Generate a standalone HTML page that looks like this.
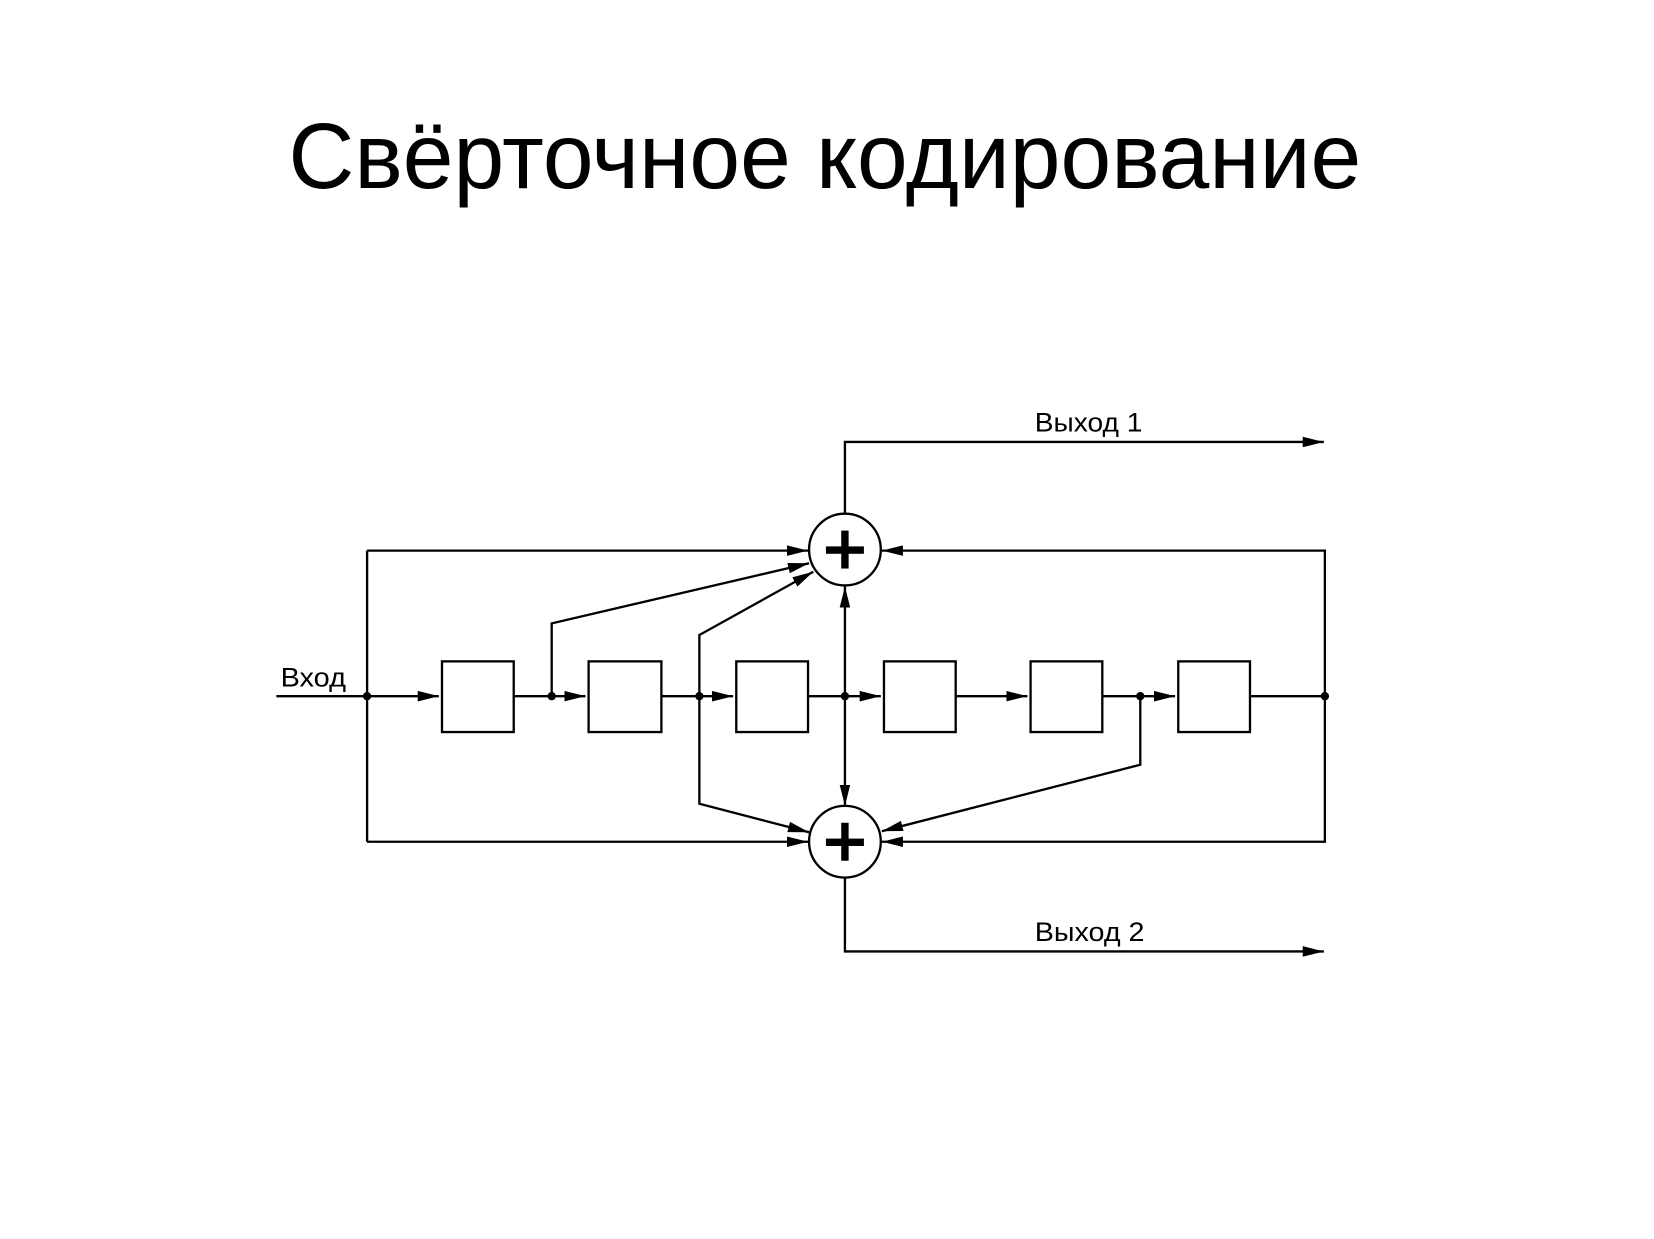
<!DOCTYPE html>
<html><head><meta charset="utf-8"><style>
html,body{margin:0;padding:0;background:#fff;}
svg{display:block;}
</style></head><body>
<svg width="1654" height="1239" viewBox="0 0 1568 1174.6" xmlns="http://www.w3.org/2000/svg" font-family="Liberation Sans, sans-serif">
<defs>
<marker id="a" viewBox="0 0 20 10" refX="20" refY="5" markerWidth="20" markerHeight="10" markerUnits="userSpaceOnUse" orient="auto">
<path d="M0,0 L20,5 L0,10 z" fill="#000"/></marker>
</defs>
<text x="782" y="178" font-size="88" text-anchor="middle" textLength="1017" lengthAdjust="spacingAndGlyphs">Свёрточное кодирование</text>
<g stroke="#000" stroke-width="2.2" fill="none">
<line x1="262" y1="660" x2="416" y2="660" marker-end="url(#a)"/>
<line x1="487" y1="660" x2="555" y2="660" marker-end="url(#a)"/>
<line x1="627" y1="660" x2="695" y2="660" marker-end="url(#a)"/>
<line x1="766" y1="660" x2="835" y2="660" marker-end="url(#a)"/>
<line x1="906" y1="660" x2="974" y2="660" marker-end="url(#a)"/>
<line x1="1045" y1="660" x2="1114" y2="660" marker-end="url(#a)"/>
<line x1="1185" y1="660" x2="1256" y2="660"/>
<rect x="419" y="627" width="68" height="67"/>
<rect x="558" y="627" width="69" height="67"/>
<rect x="698" y="627" width="68" height="67"/>
<rect x="838" y="627" width="68" height="67"/>
<rect x="977" y="627" width="68" height="67"/>
<rect x="1117" y="627" width="68" height="67"/>
<line x1="348" y1="522" x2="348" y2="798"/>
<line x1="348" y1="798" x2="766" y2="798" marker-end="url(#a)"/>
<line x1="348" y1="522" x2="766" y2="522" marker-end="url(#a)"/>
<polyline points="1256,660 1256,522 836,522" marker-end="url(#a)"/>
<polyline points="1256,660 1256,798 836,798" marker-end="url(#a)"/>
<polyline points="523,660 523,591 767,534" marker-end="url(#a)"/>
<polyline points="663,660 663,602 771,542" marker-end="url(#a)"/>
<line x1="801" y1="660" x2="801" y2="556" marker-end="url(#a)"/>
<line x1="801" y1="660" x2="801" y2="764" marker-end="url(#a)"/>
<polyline points="663,660 663,762 767,789" marker-end="url(#a)"/>
<polyline points="1081,660 1081,725 836,788" marker-end="url(#a)"/>
<polyline points="801,488 801,419 1255,419" marker-end="url(#a)"/>
<polyline points="801,832 801,902 1255,902" marker-end="url(#a)"/>
<circle cx="801" cy="521" r="34" fill="#fff"/>
<circle cx="801" cy="798" r="34" fill="#fff"/>
</g>
<g fill="#000">
<rect x="783" y="518" width="36" height="7"/><rect x="797.5" y="503" width="7" height="36"/>
<rect x="783" y="795" width="36" height="7"/><rect x="797.5" y="780" width="7" height="36"/>
<circle cx="348" cy="660" r="4"/><circle cx="523" cy="660" r="4"/><circle cx="663" cy="660" r="4"/>
<circle cx="801" cy="660" r="4"/><circle cx="1081" cy="660" r="4"/><circle cx="1256" cy="660" r="4"/>
</g>
<text x="266" y="651" font-size="25" textLength="62" lengthAdjust="spacingAndGlyphs">Вход</text>
<text x="981" y="409" font-size="25" textLength="102" lengthAdjust="spacingAndGlyphs">Выход 1</text>
<text x="981" y="892" font-size="25" textLength="104" lengthAdjust="spacingAndGlyphs">Выход 2</text>
</svg>
</body></html>
